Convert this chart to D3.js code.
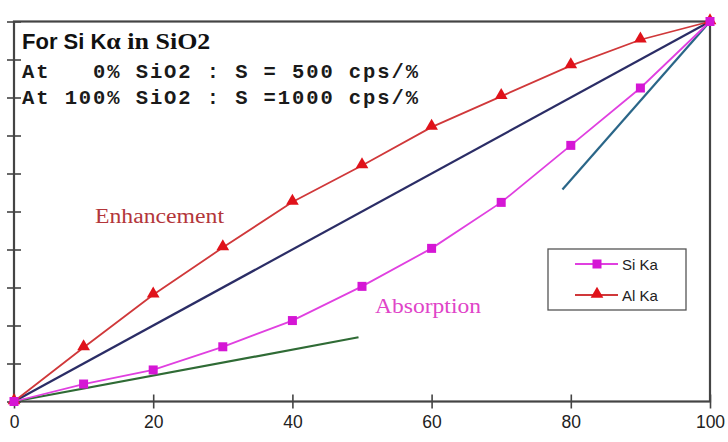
<!DOCTYPE html>
<html>
<head>
<meta charset="utf-8">
<script src="https://cdn.jsdelivr.net/npm/d3@7"></script>
<style>
  html, body { margin: 0; padding: 0; background: #fff; }
  svg { display: block; }
</style>
</head>
<body>
<svg id="chart" width="728" height="442"></svg>
<script>
// Concentration of SiO2 (%) for each measured point
const concentration = [0, 10, 20, 30, 40, 50, 60, 70, 80, 90, 100];
// Relative intensities (%)
const siKa = [0, 4.6, 8.3, 14.4, 21.3, 30.3, 40.3, 52.4, 67.4, 82.5, 100];
const alKa = [0, 14.2, 28.1, 40.5, 52.5, 62.1, 72.2, 80.3, 88.4, 95.2, 100];
// Reference lines: linear calibration and the two tangents
const linearLine = [[0, 0], [100, 100]];
const lowTangent = [[0, 0], [49.5, 16.9]];
const highTangent = [[78.8, 55.8], [100, 100]];
const xTicks = [0, 20, 40, 60, 80, 100];
const yTicks = [0, 10, 20, 30, 40, 50, 60, 70, 80, 90, 100];

const svg = d3.select("#chart");
const plot = { left: 14, right: 710, top: 21.5, bottom: 401.5 };

const x = d3.scaleLinear().domain([0, 100]).range([plot.left, plot.right]);
const y = d3.scaleLinear().domain([0, 100]).range([plot.bottom, plot.top]);

const frameColor = "#444";

// Frame
svg.append("rect")
  .attr("x", plot.left).attr("y", plot.top)
  .attr("width", plot.right - plot.left).attr("height", plot.bottom - plot.top)
  .attr("fill", "none").attr("stroke", frameColor).attr("stroke-width", 2.2);

// Bottom axis with crossing ticks
const xAxis = svg.append("g").attr("transform", `translate(0,${plot.bottom})`)
  .call(d3.axisBottom(x).tickValues(xTicks).tickSize(7).tickSizeOuter(0).tickFormat(d3.format("d")));
xAxis.select(".domain").remove();
xAxis.selectAll(".tick line").attr("y1", -7).attr("y2", 7).attr("stroke", frameColor).attr("stroke-width", 1.6);
xAxis.selectAll(".tick text")
  .attr("y", 14).attr("dy", "0.71em")
  .attr("font-family", "Liberation Sans, Arial, sans-serif")
  .attr("font-size", 17.5).attr("fill", "#222");

// Left axis with crossing ticks, no labels
const yAxis = svg.append("g").attr("transform", `translate(${plot.left},0)`)
  .call(d3.axisLeft(y).tickValues(yTicks).tickSize(7).tickSizeOuter(0).tickFormat(""));
yAxis.select(".domain").remove();
yAxis.selectAll(".tick line").attr("x1", -7).attr("x2", 7).attr("stroke", frameColor).attr("stroke-width", 1.6);

const line = d3.line().x(d => x(d[0])).y(d => y(d[1]));

// Reference lines
svg.append("path").datum(linearLine).attr("d", line)
  .attr("fill", "none").attr("stroke", "#2b2d66").attr("stroke-width", 2.2);
svg.append("path").datum(lowTangent).attr("d", line)
  .attr("fill", "none").attr("stroke", "#2f6b35").attr("stroke-width", 2.2);
svg.append("path").datum(highTangent).attr("d", line)
  .attr("fill", "none").attr("stroke", "#2a6688").attr("stroke-width", 2.2);

// Series
const siPts = concentration.map((c, i) => [c, siKa[i]]);
const alPts = concentration.map((c, i) => [c, alKa[i]]);

svg.append("path").datum(alPts).attr("d", line)
  .attr("fill", "none").attr("stroke", "#d0383a").attr("stroke-width", 1.8);
svg.append("path").datum(siPts).attr("d", line)
  .attr("fill", "none").attr("stroke", "#e040e0").attr("stroke-width", 1.8);

const tri = d3.symbol().type(d3.symbolTriangle).size(70);
svg.append("g").selectAll("path").data(alPts).join("path")
  .attr("d", tri)
  .attr("transform", d => `translate(${x(d[0])},${y(d[1]) - 1})`)
  .attr("fill", "#e0121a");

svg.append("g").selectAll("rect").data(siPts).join("rect")
  .attr("x", d => x(d[0]) - 4.5).attr("y", d => y(d[1]) - 4.5)
  .attr("width", 9).attr("height", 9)
  .attr("fill", "#d516d5");

// Annotations
svg.append("text").attr("x", 95).attr("y", 223)
  .attr("font-family", "Liberation Serif, Times New Roman, serif")
  .attr("font-size", 20).attr("fill", "#b3363a")
  .attr("textLength", 129).attr("lengthAdjust", "spacingAndGlyphs")
  .text("Enhancement");
svg.append("text").attr("x", 375).attr("y", 313)
  .attr("font-family", "Liberation Serif, Times New Roman, serif")
  .attr("font-size", 20).attr("fill", "#e044c8")
  .attr("textLength", 106).attr("lengthAdjust", "spacingAndGlyphs")
  .text("Absorption");

// Header text
const title = svg.append("text").attr("x", 22).attr("y", 49)
  .attr("font-weight", "bold").attr("fill", "#111");
title.append("tspan").attr("font-family", "Liberation Sans, Arial, sans-serif")
  .attr("font-size", 22).text("For Si K");
title.append("tspan").attr("font-family", "Liberation Serif, Times New Roman, serif")
  .attr("font-size", 23).attr("textLength", 104).attr("lengthAdjust", "spacingAndGlyphs")
  .text("α in SiO2");

const mono = ["At   0% SiO2 : S = 500 cps/%", "At 100% SiO2 : S =1000 cps/%"];
svg.append("g").selectAll("text").data(mono).join("text")
  .attr("x", 22).attr("y", (d, i) => 78 + i * 26)
  .attr("font-family", "Liberation Mono, Courier New, monospace")
  .attr("font-size", 20.5).attr("font-weight", "bold").attr("fill", "#1a1a1a")
  .attr("textLength", 396).attr("lengthAdjust", "spacing")
  .attr("xml:space", "preserve").style("white-space", "pre")
  .text(d => d);

// Legend
const legend = svg.append("g");
legend.append("rect").attr("x", 548).attr("y", 249).attr("width", 138).attr("height", 61)
  .attr("fill", "#fff").attr("stroke", "#555").attr("stroke-width", 1.3);
const legendItems = [
  { name: "Si Ka", color: "#e040e0", mark: "square", fill: "#d516d5" },
  { name: "Al Ka", color: "#d0383a", mark: "triangle", fill: "#e0121a" }
];
legendItems.forEach((it, i) => {
  const ly = 264 + i * 31;
  legend.append("line").attr("x1", 575).attr("x2", 618).attr("y1", ly).attr("y2", ly)
    .attr("stroke", it.color).attr("stroke-width", 1.8);
  if (it.mark === "square") {
    legend.append("rect").attr("x", 592.5).attr("y", ly - 4.5).attr("width", 9).attr("height", 9).attr("fill", it.fill);
  } else {
    legend.append("path").attr("d", tri).attr("transform", `translate(597,${ly - 1})`).attr("fill", it.fill);
  }
  legend.append("text").attr("x", 622).attr("y", ly + 5.5)
    .attr("font-family", "Liberation Sans, Arial, sans-serif")
    .attr("font-size", 15).attr("fill", "#222").text(it.name);
});
</script>
</body>
</html>
